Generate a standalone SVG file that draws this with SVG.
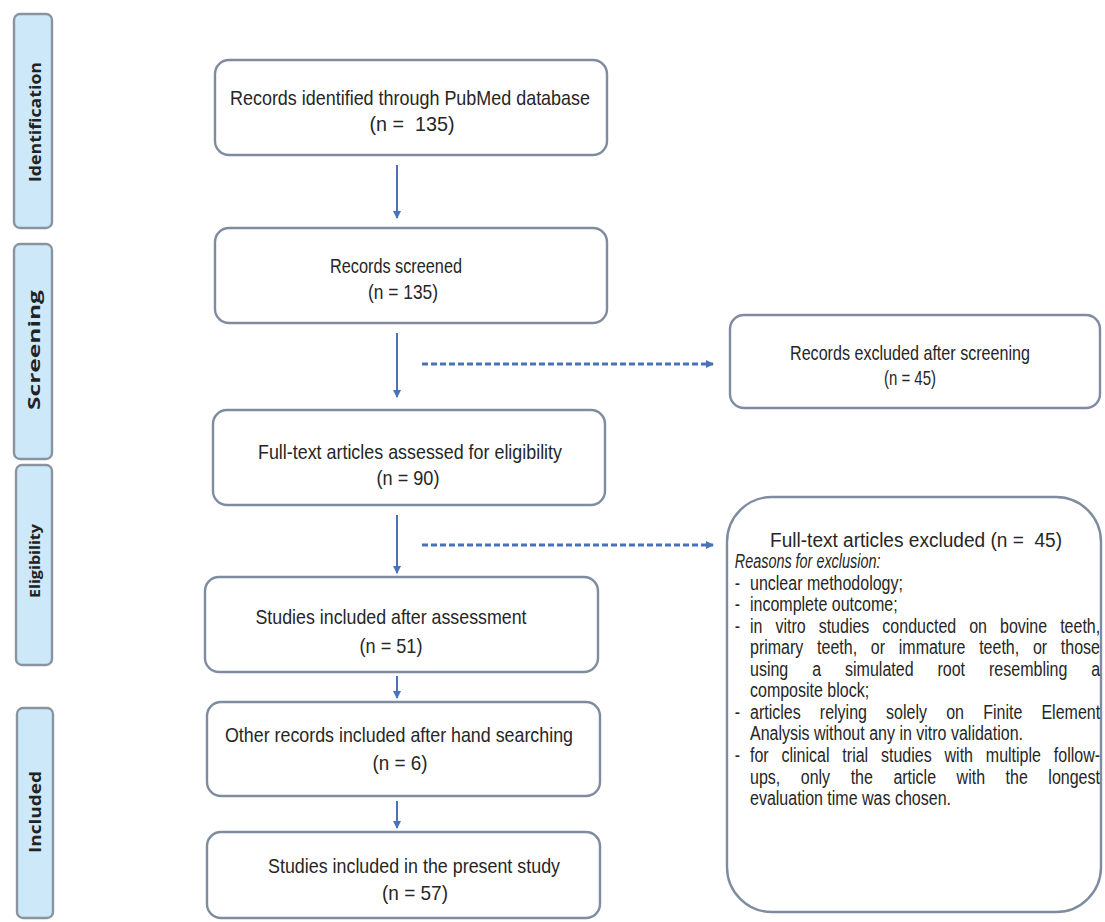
<svg xmlns="http://www.w3.org/2000/svg" width="1105" height="922" viewBox="0 0 1105 922">
<defs>
<style>
.side{fill:#cde8f9;stroke:#8a949e;stroke-width:2.4}
.sl{font-family:"Open Sans","DejaVu Sans",sans-serif;font-weight:bold;font-size:16px;fill:#222;text-anchor:middle}
.box{fill:#fff;stroke:#7f8ca0;stroke-width:2.4}
.t{font-family:"Liberation Sans",Arial,sans-serif;font-size:21px;fill:#262626;text-anchor:middle;white-space:pre}
.r{font-family:"Liberation Sans",Arial,sans-serif;font-size:20px;fill:#262626;white-space:pre}
.conn{stroke:#4a72b8;stroke-width:2;fill:none}
.dash{stroke:#4a72b8;stroke-width:3;fill:none;stroke-dasharray:6 3}
</style>
<marker id="ah" markerWidth="9" markerHeight="9" refX="7" refY="4.5" orient="auto" markerUnits="userSpaceOnUse">
<path d="M0,0.5 L8,4.5 L0,8.5 z" fill="#4a72b8"/>
</marker>
</defs>
<rect width="1105" height="922" fill="#fff"/>

<g id="phase-identification">
<rect class="side" x="14" y="14" width="38" height="214" rx="6"/>
<text class="sl" transform="translate(41,122) rotate(-90)" textLength="120" lengthAdjust="spacingAndGlyphs">Identification</text>
</g>
<g id="phase-screening">
<rect class="side" x="14" y="244" width="38" height="215" rx="6"/>
<text class="sl" transform="translate(40,350) rotate(-90)" textLength="120" lengthAdjust="spacingAndGlyphs">Screening</text>
</g>
<g id="phase-eligibility">
<rect class="side" x="16" y="465" width="36" height="200" rx="6"/>
<text class="sl" transform="translate(40,561) rotate(-90)" style="font-size:14px" textLength="74" lengthAdjust="spacingAndGlyphs">Eligibility</text>
</g>
<g id="phase-included">
<rect class="side" x="17" y="708" width="36" height="210" rx="6"/>
<text class="sl" transform="translate(41,812) rotate(-90)" textLength="82" lengthAdjust="spacingAndGlyphs">Included</text>
</g>

<g id="connectors">
<path class="conn" d="M397,165 L397,218" marker-end="url(#ah)"/>
<path class="conn" d="M397,333 L397,397" marker-end="url(#ah)"/>
<path class="conn" d="M397,515 L397,573" marker-end="url(#ah)"/>
<path class="conn" d="M397,676 L397,698" marker-end="url(#ah)"/>
<path class="conn" d="M397,801 L397,828" marker-end="url(#ah)"/>
<path class="dash" d="M422,364 L713,364" marker-end="url(#ah)"/>
<path class="dash" d="M422,545 L713,545" marker-end="url(#ah)"/>
</g>

<g id="identified">
<rect class="box" x="215" y="60" width="392" height="95" rx="14"/>
<text class="t" x="410" y="105" textLength="360" lengthAdjust="spacingAndGlyphs">Records identified through PubMed database</text>
<text class="t" x="412" y="131" textLength="85" lengthAdjust="spacingAndGlyphs">(n =  135)</text>
</g>
<g id="screened">
<rect class="box" x="215" y="228" width="392" height="95" rx="14"/>
<text class="t" x="396" y="273" textLength="132" lengthAdjust="spacingAndGlyphs">Records screened</text>
<text class="t" x="403" y="299" textLength="70" lengthAdjust="spacingAndGlyphs">(n = 135)</text>
</g>
<g id="assessed">
<rect class="box" x="213" y="410" width="392" height="95" rx="14"/>
<text class="t" x="410" y="459" textLength="304" lengthAdjust="spacingAndGlyphs">Full-text articles assessed for eligibility</text>
<text class="t" x="408" y="485" textLength="63" lengthAdjust="spacingAndGlyphs">(n = 90)</text>
</g>
<g id="included-assessment">
<rect class="box" x="205" y="577" width="393" height="95" rx="14"/>
<text class="t" x="391" y="624" textLength="271" lengthAdjust="spacingAndGlyphs">Studies included after assessment</text>
<text class="t" x="391" y="653" textLength="63" lengthAdjust="spacingAndGlyphs">(n = 51)</text>
</g>
<g id="hand-searching">
<rect class="box" x="207" y="702" width="393" height="94" rx="14"/>
<text class="t" x="399" y="742" textLength="348" lengthAdjust="spacingAndGlyphs">Other records included after hand searching</text>
<text class="t" x="400" y="770" textLength="55" lengthAdjust="spacingAndGlyphs">(n = 6)</text>
</g>
<g id="present-study">
<rect class="box" x="207" y="832" width="393" height="86" rx="14"/>
<text class="t" x="414" y="873" textLength="292" lengthAdjust="spacingAndGlyphs">Studies included in the present study</text>
<text class="t" x="415" y="900" textLength="66" lengthAdjust="spacingAndGlyphs">(n = 57)</text>
</g>
<g id="excluded-screening">
<rect class="box" x="730" y="315" width="370" height="93" rx="14"/>
<text class="t" x="910" y="360" textLength="240" lengthAdjust="spacingAndGlyphs">Records excluded after screening</text>
<text class="t" x="910" y="385" textLength="52" lengthAdjust="spacingAndGlyphs">(n = 45)</text>
</g>
<g id="excluded-fulltext">
<rect class="box" x="727" y="497" width="374" height="415" rx="45"/>
<text class="t" x="916" y="547" style="font-size:20px" textLength="292" lengthAdjust="spacingAndGlyphs">Full-text articles excluded (n =  45)</text>
<g transform="matrix(0.8 0 0 1 150 0)">
<text class="r" x="731" y="568" font-style="italic" textLength="182" lengthAdjust="spacingAndGlyphs">Reasons for exclusion:</text>
<text class="r" x="731" y="590">-</text>
<text class="r" x="750" y="590">unclear methodology;</text>
<text class="r" x="731" y="611">-</text>
<text class="r" x="750" y="611">incomplete outcome;</text>
<text class="r" x="731" y="633">-</text>
<text class="r" x="750" y="633" word-spacing="10.7">in vitro studies conducted on bovine teeth,</text>
<text class="r" x="750" y="654" word-spacing="11.6">primary teeth, or immature teeth, or those</text>
<text class="r" x="750" y="676" word-spacing="24.4">using a simulated root resembling a</text>
<text class="r" x="750" y="697">composite block;</text>
<text class="r" x="731" y="719">-</text>
<text class="r" x="750" y="719" word-spacing="18.4">articles relying solely on Finite Element</text>
<text class="r" x="750" y="740">Analysis without any in vitro validation.</text>
<text class="r" x="731" y="762">-</text>
<text class="r" x="750" y="762" word-spacing="10.5">for clinical trial studies with multiple follow-</text>
<text class="r" x="750" y="784" word-spacing="20.1">ups, only the article with the longest</text>
<text class="r" x="750" y="805">evaluation time was chosen.</text>
</g>
</g>
</svg>
